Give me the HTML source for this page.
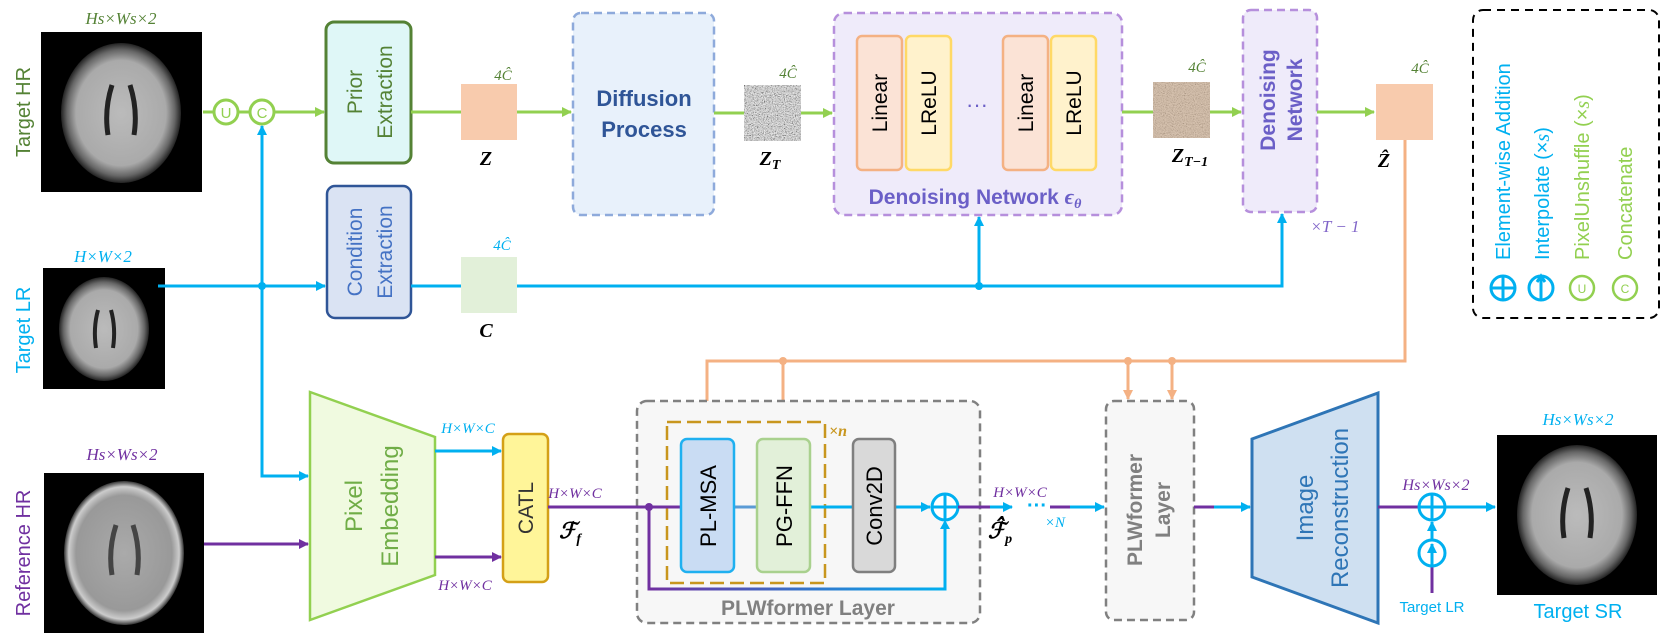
<!DOCTYPE html>
<html><head><meta charset="utf-8"><style>
html,body{margin:0;padding:0;background:#fff}
svg{display:block}
text{font-family:"Liberation Sans",sans-serif}
.it{font-family:"Liberation Serif",serif;font-style:italic}
.bi{font-family:"Liberation Serif",serif;font-style:italic;font-weight:bold}
</style></head><body>
<svg width="1661" height="641" viewBox="0 0 1661 641" xmlns="http://www.w3.org/2000/svg">
<defs>
<marker id="ag" markerWidth="10" markerHeight="10" refX="9" refY="5" orient="auto" markerUnits="userSpaceOnUse"><path d="M0,0 L10,5 L0,10z" fill="#92d050"/></marker>
<marker id="ab" markerWidth="10" markerHeight="10" refX="9" refY="5" orient="auto" markerUnits="userSpaceOnUse"><path d="M0,0 L10,5 L0,10z" fill="#00b0f0"/></marker>
<marker id="ap" markerWidth="10" markerHeight="10" refX="9" refY="5" orient="auto" markerUnits="userSpaceOnUse"><path d="M0,0 L10,5 L0,10z" fill="#7030a0"/></marker>
<marker id="ao" markerWidth="10" markerHeight="10" refX="9" refY="5" orient="auto" markerUnits="userSpaceOnUse"><path d="M0,0 L10,5 L0,10z" fill="#f4b183"/></marker>
<radialGradient id="brain" cx="50%" cy="50%" r="50%"><stop offset="0" stop-color="#bbb"/><stop offset="0.75" stop-color="#aaa"/><stop offset="0.9" stop-color="#666"/><stop offset="1" stop-color="#222"/></radialGradient>
<radialGradient id="brain2" cx="50%" cy="50%" r="50%"><stop offset="0" stop-color="#aaa"/><stop offset="0.8" stop-color="#999"/><stop offset="0.92" stop-color="#ccc"/><stop offset="1" stop-color="#333"/></radialGradient>
<filter id="noise" x="0" y="0" width="100%" height="100%"><feTurbulence type="fractalNoise" baseFrequency="0.9" numOctaves="2" seed="3"/><feColorMatrix type="saturate" values="0"/><feComponentTransfer><feFuncR type="linear" slope="1.8" intercept="-0.6"/><feFuncG type="linear" slope="1.8" intercept="-0.6"/><feFuncB type="linear" slope="1.8" intercept="-0.6"/></feComponentTransfer></filter>
<linearGradient id="pb" x1="0" x2="1"><stop offset="0" stop-color="#7030a0"/><stop offset="1" stop-color="#00b0f0"/></linearGradient>
</defs>

<rect x="41" y="32" width="161" height="160" fill="#000"/>
<ellipse cx="121" cy="113" rx="60" ry="70" fill="url(#brain)"/>
<path d="M112,85 Q104,110 108,135 M130,85 Q138,110 134,135" stroke="#222" stroke-width="5" fill="none"/>
<text x="121" y="24" class="it" font-size="17" fill="#548235" text-anchor="middle">Hs×Ws×2</text>
<text transform="translate(30,112) rotate(-90)" font-size="20" fill="#548235" text-anchor="middle">Target HR</text>

<rect x="43" y="268" width="122" height="121" fill="#000"/>
<ellipse cx="104" cy="329" rx="45" ry="52" fill="url(#brain)"/>
<path d="M98,310 Q93,328 96,348 M111,310 Q116,328 113,348" stroke="#222" stroke-width="4" fill="none"/>
<text x="103" y="262" class="it" font-size="17" fill="#00b0f0" text-anchor="middle">H×W×2</text>
<text transform="translate(30,330) rotate(-90)" font-size="20" fill="#00b0f0" text-anchor="middle">Target LR</text>

<rect x="44" y="473" width="160" height="160" fill="#000"/>
<ellipse cx="124" cy="553" rx="60" ry="72" fill="url(#brain2)"/>
<path d="M116,525 Q108,550 112,575 M133,525 Q141,550 137,575" stroke="#444" stroke-width="5" fill="none"/>
<text x="122" y="460" class="it" font-size="17" fill="#7030a0" text-anchor="middle">Hs×Ws×2</text>
<text transform="translate(30,553) rotate(-90)" font-size="20" fill="#7030a0" text-anchor="middle">Reference HR</text>

<rect x="1497" y="435" width="160" height="160" fill="#000"/>
<ellipse cx="1577" cy="515" rx="60" ry="70" fill="url(#brain)"/>
<path d="M1568,488 Q1560,513 1564,538 M1586,488 Q1594,513 1590,538" stroke="#222" stroke-width="5" fill="none"/>
<text x="1578" y="425" class="it" font-size="17" fill="#00b0f0" text-anchor="middle">Hs×Ws×2</text>
<text x="1578" y="618" font-size="20" fill="#00b0f0" text-anchor="middle">Target SR</text>

<line x1="203" y1="112" x2="324" y2="112" stroke="#92d050" stroke-width="3" marker-end="url(#ag)"/>
<circle cx="226" cy="112" r="12" fill="#fff" stroke="#92d050" stroke-width="3"/>
<text x="226" y="118" font-size="15" fill="#92d050" text-anchor="middle">U</text>
<circle cx="262" cy="112" r="12" fill="#fff" stroke="#92d050" stroke-width="3"/>
<text x="262" y="118" font-size="15" fill="#92d050" text-anchor="middle">C</text>

<rect x="326" y="22" width="85" height="141" rx="8" fill="#dff7f7" stroke="#548235" stroke-width="3"/>
<text transform="translate(362,92) rotate(-90)" font-size="21" fill="#548235" text-anchor="middle">Prior</text>
<text transform="translate(392,92) rotate(-90)" font-size="21" fill="#548235" text-anchor="middle">Extraction</text>

<line x1="411" y1="112" x2="461" y2="112" stroke="#92d050" stroke-width="3"/>
<rect x="461" y="84" width="56" height="56" fill="#f8cbad"/>
<text x="503" y="80" class="it" font-size="15" fill="#548235" text-anchor="middle">4Ĉ</text>
<text x="486" y="165" class="bi" font-size="20" text-anchor="middle">Z</text>
<line x1="517" y1="112" x2="571" y2="112" stroke="#92d050" stroke-width="3" marker-end="url(#ag)"/>

<rect x="573" y="13" width="141" height="202" rx="8" fill="#e8f1fb" stroke="#8eaadb" stroke-width="2.5" stroke-dasharray="8,5"/>
<text x="644" y="106" font-size="22" font-weight="bold" fill="#2f5597" text-anchor="middle">Diffusion</text>
<text x="644" y="137" font-size="22" font-weight="bold" fill="#2f5597" text-anchor="middle">Process</text>

<line x1="714" y1="113" x2="744" y2="113" stroke="#92d050" stroke-width="3"/>
<rect x="744" y="85" width="57" height="56" fill="#555" filter="url(#noise)"/>
<text x="788" y="78" class="it" font-size="15" fill="#548235" text-anchor="middle">4Ĉ</text>
<text x="770" y="165" class="bi" font-size="20" text-anchor="middle">Z<tspan font-size="14" dy="4">T</tspan></text>
<line x1="801" y1="113" x2="832" y2="113" stroke="#92d050" stroke-width="3" marker-end="url(#ag)"/>

<rect x="834" y="13" width="288" height="202" rx="10" fill="#efebfa" stroke="#b68fdc" stroke-width="2.5" stroke-dasharray="8,5"/>
<rect x="857" y="36" width="45" height="134" rx="5" fill="#fbe3d6" stroke="#f4b183" stroke-width="2.5"/>
<rect x="906" y="36" width="45" height="134" rx="5" fill="#fff2cc" stroke="#ffd966" stroke-width="2.5"/>
<rect x="1003" y="36" width="45" height="134" rx="5" fill="#fbe3d6" stroke="#f4b183" stroke-width="2.5"/>
<rect x="1051" y="36" width="45" height="134" rx="5" fill="#fff2cc" stroke="#ffd966" stroke-width="2.5"/>
<text transform="translate(887,103) rotate(-90)" font-size="21" text-anchor="middle">Linear</text>
<text transform="translate(936,103) rotate(-90)" font-size="21" text-anchor="middle">LReLU</text>
<text transform="translate(1033,103) rotate(-90)" font-size="21" text-anchor="middle">Linear</text>
<text transform="translate(1081,103) rotate(-90)" font-size="21" text-anchor="middle">LReLU</text>
<text x="977" y="112" font-size="22" fill="#6b5fc7" text-anchor="middle">···</text>
<text x="975" y="204" font-size="21" font-weight="bold" fill="#6b5fc7" text-anchor="middle">Denoising Network <tspan class="it" font-size="22">ϵ</tspan><tspan class="it" font-size="14" dy="4">θ</tspan></text>

<line x1="1122" y1="112" x2="1153" y2="112" stroke="#92d050" stroke-width="3"/>
<rect x="1153" y="82" width="57" height="56" fill="#c8a889" filter="url(#noise)" opacity="0.9"/>
<rect x="1153" y="82" width="57" height="56" fill="#c9a888" opacity="0.6"/>
<text x="1197" y="72" class="it" font-size="15" fill="#548235" text-anchor="middle">4Ĉ</text>
<text x="1190" y="162" class="bi" font-size="20" text-anchor="middle">Z<tspan font-size="14" dy="4">T−1</tspan></text>
<line x1="1210" y1="112" x2="1241" y2="112" stroke="#92d050" stroke-width="3" marker-end="url(#ag)"/>

<rect x="1243" y="10" width="74" height="202" rx="8" fill="#efebfa" stroke="#b68fdc" stroke-width="2.5" stroke-dasharray="8,5"/>
<text transform="translate(1275,100) rotate(-90)" font-size="21" font-weight="bold" fill="#6b5fc7" text-anchor="middle">Denoising</text>
<text transform="translate(1302,100) rotate(-90)" font-size="21" font-weight="bold" fill="#6b5fc7" text-anchor="middle">Network</text>
<text x="1335" y="232" class="it" font-size="17" fill="#8064c8" text-anchor="middle">×T − 1</text>

<line x1="1317" y1="112" x2="1374" y2="112" stroke="#92d050" stroke-width="3" marker-end="url(#ag)"/>
<rect x="1376" y="84" width="57" height="56" fill="#f8cbad"/>
<text x="1420" y="73" class="it" font-size="15" fill="#548235" text-anchor="middle">4Ĉ</text>
<text x="1384" y="167" class="bi" font-size="20" text-anchor="middle">Ẑ</text>

<rect x="1473" y="10" width="186" height="308" rx="10" fill="none" stroke="#000" stroke-width="2" stroke-dasharray="8,6"/>
<text transform="translate(1510,260) rotate(-90)" font-size="20" fill="#00b0f0">Element-wise Addition</text>
<text transform="translate(1549,260) rotate(-90)" font-size="20" fill="#00b0f0">Interpolate (×<tspan class="it">s</tspan>)</text>
<text transform="translate(1589,260) rotate(-90)" font-size="20" fill="#92d050">PixelUnshuffle (×<tspan class="it">s</tspan>)</text>
<text transform="translate(1632,260) rotate(-90)" font-size="20" fill="#92d050">Concatenate</text>
<g stroke="#00b0f0" stroke-width="3" fill="none">
<circle cx="1503" cy="288" r="12"/><line x1="1491" y1="288" x2="1515" y2="288"/><line x1="1503" y1="276" x2="1503" y2="300"/>
<circle cx="1541" cy="288" r="12"/><line x1="1541" y1="300" x2="1541" y2="279"/><path d="M1537,282 L1541,276 L1545,282"/>
</g>
<circle cx="1582" cy="288" r="12" fill="none" stroke="#92d050" stroke-width="2.5"/>
<text x="1582" y="293" font-size="12" fill="#92d050" text-anchor="middle">U</text>
<circle cx="1625" cy="288" r="12" fill="none" stroke="#92d050" stroke-width="2.5"/>
<text x="1625" y="293" font-size="12" fill="#92d050" text-anchor="middle">C</text>

<rect x="327" y="186" width="84" height="132" rx="8" fill="#dae3f3" stroke="#2f5597" stroke-width="2.5"/>
<text transform="translate(362,252) rotate(-90)" font-size="21" fill="#4472c4" text-anchor="middle">Condition</text>
<text transform="translate(392,252) rotate(-90)" font-size="21" fill="#4472c4" text-anchor="middle">Extraction</text>
<rect x="461" y="257" width="56" height="56" fill="#e2f0d9"/>
<text x="502" y="250" class="it" font-size="15" fill="#00b0f0" text-anchor="middle">4Ĉ</text>
<text x="486" y="337" class="bi" font-size="20" text-anchor="middle">C</text>

<g stroke="#00b0f0" stroke-width="3" fill="none">
<line x1="158" y1="286" x2="325" y2="286" marker-end="url(#ab)"/>
<line x1="411" y1="286" x2="461" y2="286"/>
<polyline points="517,286 1282,286 1282,214" marker-end="url(#ab)"/>
<line x1="979" y1="286" x2="979" y2="217" marker-end="url(#ab)"/>
<line x1="262" y1="286" x2="262" y2="126" marker-end="url(#ab)"/>
<polyline points="262,286 262,476 308,476" marker-end="url(#ab)"/>
</g>
<circle cx="262" cy="286" r="4" fill="#00b0f0"/>
<circle cx="979" cy="286" r="4" fill="#00b0f0"/>

<g stroke="#f4b183" stroke-width="3" fill="none">
<polyline points="1405,140 1405,361 707,361 707,436" marker-end="url(#ao)"/>
<line x1="783" y1="361" x2="783" y2="436" marker-end="url(#ao)"/>
<line x1="1128" y1="361" x2="1128" y2="399" marker-end="url(#ao)"/>
<line x1="1172" y1="361" x2="1172" y2="399" marker-end="url(#ao)"/>
</g>
<circle cx="783" cy="361" r="4" fill="#f4b183"/><circle cx="1128" cy="361" r="4" fill="#f4b183"/><circle cx="1172" cy="361" r="4" fill="#f4b183"/>

<polygon points="310,392 435,437 435,575 310,620" fill="#f0fae0" stroke="#92d050" stroke-width="2.5"/>
<text transform="translate(362,506) rotate(-90)" font-size="24" fill="#70ad47" text-anchor="middle">Pixel</text>
<text transform="translate(398,506) rotate(-90)" font-size="24" fill="#70ad47" text-anchor="middle">Embedding</text>
<line x1="204" y1="544" x2="308" y2="544" stroke="#7030a0" stroke-width="3" marker-end="url(#ap)"/>
<line x1="435" y1="451" x2="501" y2="451" stroke="#00b0f0" stroke-width="3" marker-end="url(#ab)"/>
<line x1="435" y1="557" x2="501" y2="557" stroke="#7030a0" stroke-width="3" marker-end="url(#ap)"/>
<text x="468" y="433" class="it" font-size="15" fill="#00b0f0" text-anchor="middle">H×W×C</text>
<text x="465" y="590" class="it" font-size="15" fill="#7030a0" text-anchor="middle">H×W×C</text>

<rect x="503" y="434" width="45" height="148" rx="6" fill="#fff599" stroke="#d4a017" stroke-width="2.5"/>
<text transform="translate(533,508) rotate(-90)" font-size="21" fill="#333" text-anchor="middle">CATL</text>
<text x="575" y="498" class="it" font-size="15" fill="#7030a0" text-anchor="middle">H×W×C</text>
<text x="570" y="538" class="bi" font-size="22" text-anchor="middle">ℱ<tspan font-size="14" dy="5">f</tspan></text>

<rect x="637" y="401" width="343" height="222" rx="10" fill="#f7f7f7" stroke="#808080" stroke-width="2.5" stroke-dasharray="8,5"/>
<rect x="667" y="422" width="158" height="161" fill="none" stroke="#c8961e" stroke-width="2.5" stroke-dasharray="14,6"/>
<text x="838" y="436" class="bi" font-size="16" fill="#c8961e" text-anchor="middle">×n</text>
<line x1="548" y1="507" x2="681" y2="507" stroke="#7030a0" stroke-width="3"/>
<line x1="734" y1="507" x2="757" y2="507" stroke="#5b9bd5" stroke-width="3"/>
<line x1="810" y1="507" x2="853" y2="507" stroke="#00b0f0" stroke-width="3"/>
<line x1="895" y1="507" x2="930" y2="507" stroke="#00b0f0" stroke-width="3" marker-end="url(#ab)"/>
<polyline points="649,507 649,589 945,589 945,522" fill="none" stroke="url(#pb)" stroke-width="3"/>
<path d="M940,529 L945,520 L950,529z" fill="#00b0f0"/>
<circle cx="649" cy="507" r="4" fill="#7030a0"/>
<rect x="681" y="439" width="53" height="133" rx="6" fill="#c9dcf3" stroke="#1fb0f0" stroke-width="2.5"/>
<rect x="757" y="439" width="53" height="133" rx="6" fill="#e2f0d9" stroke="#a9d18e" stroke-width="2.5"/>
<rect x="853" y="439" width="42" height="133" rx="6" fill="#d9d9d9" stroke="#7f7f7f" stroke-width="2.5"/>
<text transform="translate(716,506) rotate(-90)" font-size="22" text-anchor="middle">PL-MSA</text>
<text transform="translate(792,506) rotate(-90)" font-size="22" text-anchor="middle">PG-FFN</text>
<text transform="translate(882,506) rotate(-90)" font-size="22" text-anchor="middle">Conv2D</text>
<g stroke="#00b0f0" stroke-width="3" fill="#fff"><circle cx="945" cy="507" r="13"/><line x1="932" y1="507" x2="958" y2="507"/><line x1="945" y1="494" x2="945" y2="520"/></g>
<text x="808" y="615" font-size="21" font-weight="bold" fill="#808080" text-anchor="middle">PLWformer Layer</text>

<line x1="958" y1="507" x2="990" y2="507" stroke="#7030a0" stroke-width="3"/>
<line x1="990" y1="507" x2="1012" y2="507" stroke="#00b0f0" stroke-width="3" marker-end="url(#ab)"/>
<text x="1037" y="512" font-size="20" font-weight="bold" fill="#00b0f0" text-anchor="middle">···</text>
<line x1="1050" y1="507" x2="1070" y2="507" stroke="#7030a0" stroke-width="3"/>
<line x1="1070" y1="507" x2="1104" y2="507" stroke="#00b0f0" stroke-width="3" marker-end="url(#ab)"/>
<text x="1020" y="497" class="it" font-size="15" fill="#7030a0" text-anchor="middle">H×W×C</text>
<text x="1000" y="538" class="bi" font-size="22" text-anchor="middle">ℱ̂<tspan font-size="14" dy="5">p</tspan></text>
<text x="1055" y="527" class="it" font-size="15" fill="#00b0f0" text-anchor="middle">×N</text>

<rect x="1106" y="401" width="88" height="219" rx="8" fill="#f7f7f7" stroke="#808080" stroke-width="2.5" stroke-dasharray="8,5"/>
<text transform="translate(1142,510) rotate(-90)" font-size="21" font-weight="bold" fill="#808080" text-anchor="middle">PLWformer</text>
<text transform="translate(1170,510) rotate(-90)" font-size="21" font-weight="bold" fill="#808080" text-anchor="middle">Layer</text>

<line x1="1194" y1="507" x2="1214" y2="507" stroke="#7030a0" stroke-width="3"/>
<line x1="1214" y1="507" x2="1250" y2="507" stroke="#00b0f0" stroke-width="3" marker-end="url(#ab)"/>

<polygon points="1252,439 1378,393 1378,623 1252,577" fill="#cfe0f1" stroke="#2e75b6" stroke-width="3"/>
<text transform="translate(1313,508) rotate(-90)" font-size="24" fill="#2e75b6" text-anchor="middle">Image</text>
<text transform="translate(1348,508) rotate(-90)" font-size="24" fill="#2e75b6" text-anchor="middle">Reconstruction</text>

<line x1="1378" y1="507" x2="1419" y2="507" stroke="#7030a0" stroke-width="3"/>
<line x1="1445" y1="507" x2="1495" y2="507" stroke="#00b0f0" stroke-width="3" marker-end="url(#ab)"/>
<g stroke="#00b0f0" stroke-width="3" fill="#fff"><circle cx="1432" cy="507" r="13"/><line x1="1419" y1="507" x2="1445" y2="507"/><line x1="1432" y1="494" x2="1432" y2="520"/></g>
<line x1="1432" y1="540" x2="1432" y2="522" stroke="#00b0f0" stroke-width="3" marker-end="url(#ab)"/>
<line x1="1432" y1="593" x2="1432" y2="566" stroke="#7030a0" stroke-width="3"/>
<g stroke="#00b0f0" stroke-width="3" fill="#fff"><circle cx="1432" cy="553" r="13"/></g>
<line x1="1432" y1="566" x2="1432" y2="544" stroke="#00b0f0" stroke-width="3" marker-end="url(#ab)"/>
<text x="1436" y="490" class="it" font-size="16" fill="#7030a0" text-anchor="middle">Hs×Ws×2</text>
<text x="1432" y="612" font-size="15" fill="#00b0f0" text-anchor="middle">Target LR</text>
</svg>
</body></html>
